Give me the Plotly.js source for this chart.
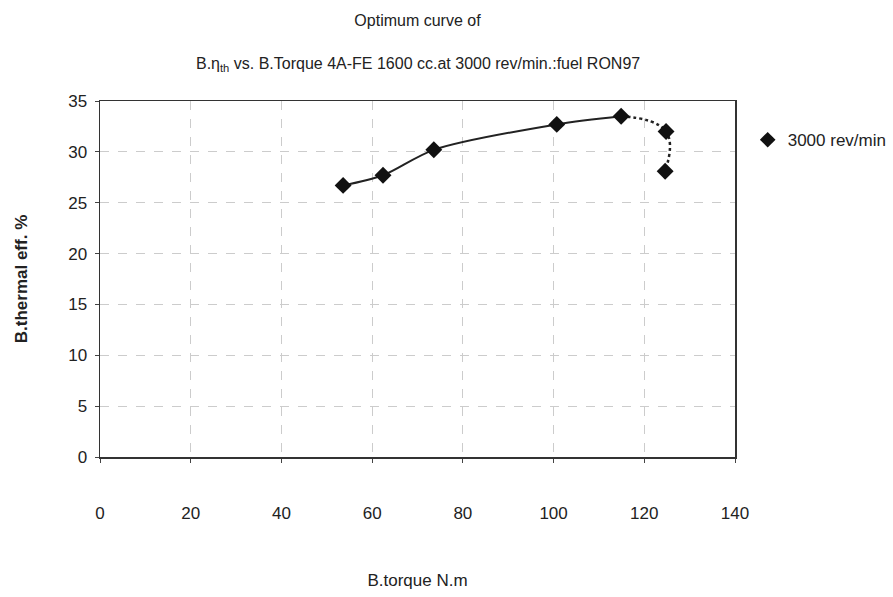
<!DOCTYPE html>
<html>
<head>
<meta charset="utf-8">
<script src="https://cdn.plot.ly/plotly-3.0.1.min.js"></script>
<style>html,body{margin:0;padding:0;background:#fff;}#chart{width:893px;height:597px;}</style>
</head>
<body>
<div id="chart"></div>
<script>
var torque = [53.6, 62.4, 73.6, 100.7, 114.9, 124.8, 124.6];
var effTh = [26.7, 27.7, 30.2, 32.7, 33.5, 32.0, 28.1];
var seriesName = '3000 rev/min';
var xTicks = [0, 20, 40, 60, 80, 100, 120, 140];
var yTicks = [0, 5, 10, 15, 20, 25, 30, 35];
var solidCount = 5;

var fnt = 'Liberation Sans, Arial, sans-serif';

var traces = [
  {x: torque.slice(0, solidCount), y: effTh.slice(0, solidCount), mode: 'lines',
   line: {color: '#222', width: 2, shape: 'spline', smoothing: 0.85}, showlegend: false, hoverinfo: 'skip'},
  {x: torque.slice(solidCount - 1), y: effTh.slice(solidCount - 1), mode: 'lines',
   line: {color: '#222', width: 2.5, dash: 'dot', shape: 'spline', smoothing: 1.3}, showlegend: false, hoverinfo: 'skip'},
  {x: torque, y: effTh, mode: 'markers', name: seriesName,
   marker: {symbol: 'diamond', size: 13, color: '#111'}}
];

var layout = {
  width: 893, height: 597,
  paper_bgcolor: '#fff', plot_bgcolor: '#fff',
  margin: {l: 100, r: 158, t: 101, b: 140, autoexpand: false},
  font: {family: fnt, color: '#222', size: 17},
  title: {text: 'Optimum curve of', xref: 'paper', x: 0.5, xanchor: 'center', y: 0.966, yanchor: 'middle',
          font: {size: 16, family: fnt, color: '#222'}},
  annotations: [{text: 'B.η<sub>th</sub> vs. B.Torque 4A-FE 1600 cc.at 3000 rev/min.:fuel RON97',
    xref: 'paper', yref: 'paper', x: 0.5, y: 1, yshift: 37, xanchor: 'center', yanchor: 'middle',
    showarrow: false, font: {size: 16, family: fnt, color: '#222'}}],
  xaxis: {range: [0, 140], tickvals: xTicks, ticks: 'outside', ticklen: 4, tickcolor: '#444',
    showline: true, linecolor: '#333', linewidth: 1.5, mirror: true,
    showgrid: true, gridcolor: '#cccccc', griddash: 'dash', zeroline: false,
    ticklabelstandoff: 36, tickfont: {size: 17},
    title: {text: 'B.torque N.m', font: {size: 17}, standoff: 52}},
  yaxis: {range: [0, 35], tickvals: yTicks, ticks: 'outside', ticklen: 4, tickcolor: '#444',
    showline: true, linecolor: '#333', linewidth: 1.5, mirror: true,
    showgrid: true, gridcolor: '#cccccc', griddash: 'dash', zeroline: false,
    ticklabelstandoff: 4, tickfont: {size: 17},
    title: {text: '<b>B.thermal eff. %</b>', font: {size: 17}, standoff: 36}},
  legend: {x: 1.02, y: 0.89, xanchor: 'left', yanchor: 'middle', font: {size: 17},
    bgcolor: 'rgba(0,0,0,0)', itemsizing: 'constant'},
  showlegend: true
};

Plotly.newPlot('chart', traces, layout, {displayModeBar: false, staticPlot: true});
</script>
</body>
</html>
